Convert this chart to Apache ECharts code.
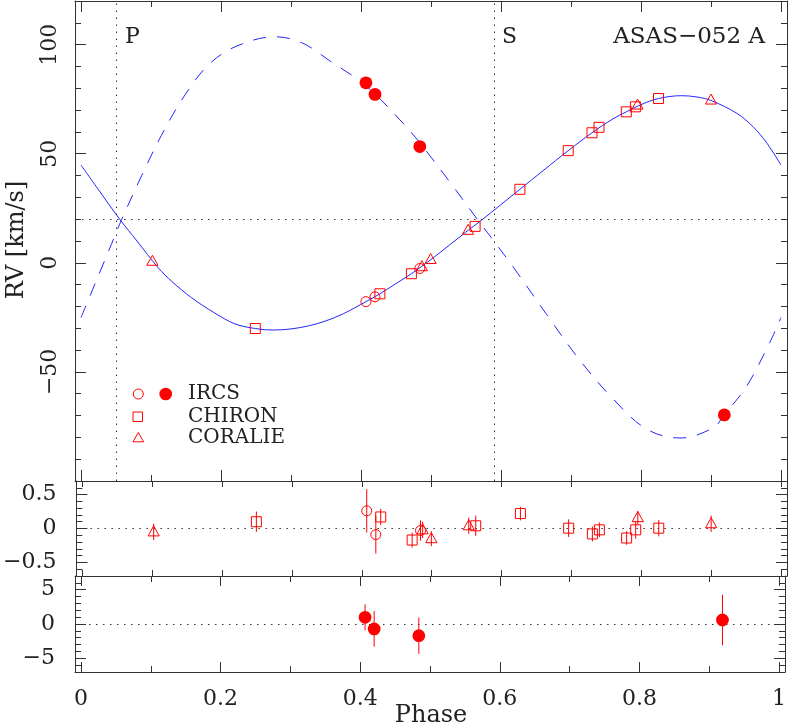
<!DOCTYPE html>
<html><head><meta charset="utf-8">
<script src="https://cdn.jsdelivr.net/npm/echarts@6/dist/echarts.min.js"></script>
<style>html,body{margin:0;padding:0;background:#fff}#c{width:789px;height:725px}</style>
</head><body><div id="c"></div>
<script>
// ---------------- data ----------------
const modelPhaseA = [0, 0.025, 0.0557, 0.08, 0.1104, 0.13, 0.158, 0.19, 0.22, 0.249, 0.275, 0.30, 0.325, 0.35, 0.375, 0.407, 0.427, 0.45, 0.472, 0.50, 0.527, 0.553, 0.57, 0.60, 0.627, 0.66, 0.696, 0.73, 0.76, 0.779, 0.80, 0.825, 0.858, 0.88, 0.90, 0.937, 0.96, 0.98, 1.0];
const modelRvA    = [44.8, 33.5, 19.8, 10.0, -2.3, -8.6, -16.0, -22.8, -28.0, -30.1, -30.8, -30.3, -28.9, -26.6, -23.3, -17.8, -14.2, -9.5, -5.0, 1.5, 8.3, 14.9, 19.0, 26.7, 33.7, 42.2, 51.4, 59.6, 66.0, 69.2, 72.5, 75.3, 76.6, 76.0, 74.4, 68.5, 62.4, 54.8, 44.8];
const modelPhaseB = [0, 0.0486, 0.058, 0.0867, 0.115, 0.1486, 0.182, 0.22, 0.277, 0.3153, 0.358, 0.407, 0.4557, 0.484, 0.527, 0.57, 0.5867, 0.6176, 0.665, 0.713, 0.7605, 0.808, 0.8557, 0.9033, 0.919, 0.951, 0.984, 1.0];
const modelRvB    = [-25.1, 12.5, 19.8, 40.0, 58.5, 77.0, 90.7, 99.0, 103.6, 100.9, 92.0, 81.2, 65.5, 55.0, 37.0, 18.3, 11.3, -2.0, -23.6, -44.8, -62.5, -76.2, -80.3, -75.6, -69.7, -56.5, -36.5, -25.1];

const ircsPhaseA = [0.407, 0.420, 0.484];
const ircsRvA    = [-17.8, -15.6, -2.6];
const ircsResA   = [0.26, -0.09, -0.03];
const ircsErrA   = [0.32, 0.28, 0.15];

const ircsPhaseB = [0.407, 0.420, 0.484, 0.919];
const ircsRvB    = [82.5, 77.2, 53.3, -69.7];
const ircsResB   = [0.97, -0.72, -1.7, 0.58];
const ircsErrB   = [1.9, 2.6, 2.65, 3.7];

const chironPhase = [0.249, 0.427, 0.472, 0.563, 0.627, 0.696, 0.730, 0.740, 0.779, 0.792, 0.825];
const chironRv    = [-30.1, -14.2, -5.0, 16.7, 33.7, 51.4, 59.6, 62.1, 69.2, 71.5, 75.3];
const chironRes   = [0.10, 0.17, -0.17, 0.04, 0.22, 0.005, -0.08, -0.02, -0.14, -0.02, 0.005];
const chironErr   = [0.15, 0.12, 0.11, 0.15, 0.10, 0.13, 0.11, 0.11, 0.10, 0.13, 0.12];

const coraliePhase = [0.102, 0.487, 0.4995, 0.553, 0.795, 0.900];
const coralieRv    = [0.7, -1.8, 1.5, 14.9, 72.3, 74.6];
const coralieRes   = [-0.05, -0.02, -0.15, 0.04, 0.16, 0.07];
const coralieErr   = [0.12, 0.12, 0.11, 0.12, 0.10, 0.12];

const gammaRv = 20;
const phaseP = 0.052;
const phaseS = 0.5895;

const xMajorTicks = [0, 0.2, 0.4, 0.6, 0.8, 1];
const xMinorTicks = [0.1, 0.3, 0.5, 0.7, 0.9];
const yTopMajor = [-50, 0, 50, 100];
const yTopMinor = [-90, -80, -70, -60, -40, -30, -20, -10, 10, 20, 30, 40, 60, 70, 80, 90, 110];
const yMidMajor = [-0.5, 0, 0.5];
const yMidMinor = [-0.6, -0.4, -0.3, -0.2, -0.1, 0.1, 0.2, 0.3, 0.4, 0.6];
const yBotMajor = [-5, 0, 5];
const yBotMinor = [-6, -4, -3, -2, -1, 1, 2, 3, 4, 6];

// ---------------- helpers ----------------
const zip = (a, b) => a.map((v, i) => [v, b[i]]);
const zip3 = (a, b, c) => a.map((v, i) => [v, b[i], c[i]]);
const FONT = 'DejaVu Serif';
const frameStyle = { color: '#333', width: 1 };
const tickStyle = { color: '#333', width: 1 };
const fmt = v => String(+v.toFixed(3)).replace('-', '\u2212');
const X_MIN = -0.00857, X_MAX = 1.00857;
const RED = '#ff0000';
const BLUE = '#2424ff';

function xAxesFor(g, showLabels, majLen, minLen) {
  const c = { type: 'value', gridIndex: g, min: X_MIN, max: X_MAX, splitLine: { show: false } };
  const mk = (pos, ticks, len, line, lab) => Object.assign({}, c, {
    position: pos,
    axisLine: { show: line, onZero: false, lineStyle: frameStyle },
    axisTick: { show: true, inside: true, length: len, customValues: ticks, lineStyle: tickStyle },
    axisLabel: lab ? { show: true, customValues: ticks, margin: 16, formatter: fmt, fontFamily: FONT, fontSize: 22, color: '#222' } : { show: false }
  });
  return [
    mk('bottom', xMajorTicks, majLen, true, showLabels),
    mk('bottom', xMinorTicks, minLen, false, false),
    mk('top', xMajorTicks, majLen, true, false),
    mk('top', xMinorTicks, minLen, false, false)
  ];
}
function yAxesFor(g, min, max, major, minor, rotate, margin) {
  const c = { type: 'value', gridIndex: g, min: min, max: max, splitLine: { show: false } };
  const mk = (pos, ticks, len, line, lab) => Object.assign({}, c, {
    position: pos,
    axisLine: { show: line, onZero: false, lineStyle: frameStyle },
    axisTick: { show: true, inside: true, length: len, customValues: ticks, lineStyle: tickStyle },
    axisLabel: lab ? { show: true, customValues: ticks, margin: margin, rotate: rotate, formatter: fmt, fontFamily: FONT, fontSize: 22, color: '#222' } : { show: false }
  });
  return [
    mk('left', major, 11, true, true),
    mk('left', minor, 6, false, false),
    mk('right', major, 11, true, false),
    mk('right', minor, 6, false, false)
  ];
}
const dotted = { type: [1.5, 5.5], color: '#333', width: 1 };
function mline(data) {
  return { silent: true, symbol: ['none', 'none'], label: { show: false }, lineStyle: dotted, data: data, animation: false };
}
function errBars(g, data) {
  return {
    type: 'custom', xAxisIndex: g * 4, yAxisIndex: g * 4, data: data, z: 8, silent: true,
    encode: { x: 0, y: 1 },
    renderItem: function (params, api) {
      const x = api.value(0), y = api.value(1), e = api.value(2);
      const p1 = api.coord([x, y - e]), p2 = api.coord([x, y + e]);
      return { type: 'line', shape: { x1: p1[0], y1: p1[1], x2: p2[0], y2: p2[1] }, style: { stroke: RED, lineWidth: 1 } };
    }
  };
}
// markers drawn through the axes' coordinate system
function marks(g, data, kind) {
  return {
    type: 'custom', xAxisIndex: g * 4, yAxisIndex: g * 4, data: data, z: 10, silent: true,
    encode: { x: 0, y: 1 },
    renderItem: function (params, api) {
      const p = api.coord([api.value(0), api.value(1)]);
      const cx = p[0], cy = p[1];
      const open = { fill: 'none', stroke: RED, lineWidth: 1 };
      if (kind === 'filled') return { type: 'circle', shape: { cx: cx, cy: cy, r: 6.4 }, style: { fill: RED } };
      if (kind === 'circle') return { type: 'circle', shape: { cx: cx, cy: cy, r: 5 }, style: open };
      if (kind === 'rect') return { type: 'rect', shape: { x: cx - 5, y: cy - 5, width: 10, height: 10 }, style: open };
      return { type: 'polygon', shape: { points: [[cx, cy - 6], [cx + 5.6, cy + 4], [cx - 5.6, cy + 4]] }, style: open };
    }
  };
}

const option = {
  animation: false,
  grid: [
    { left: 75, width: 712, top: 1, height: 480 },
    { left: 75, width: 712, top: 481, height: 95 },
    { left: 75, width: 712, top: 576, height: 96 }
  ],
  xAxis: [].concat(xAxesFor(0, false, 11, 6), xAxesFor(1, false, 6, 6), xAxesFor(2, true, 10, 6)),
  yAxis: [].concat(
    yAxesFor(0, -100, 120, yTopMajor, yTopMinor, 90, 14),
    yAxesFor(1, -0.7, 0.7, yMidMajor, yMidMinor, 0, 20),
    yAxesFor(2, -7, 7, yBotMajor, yBotMinor, 0, 20)
  ),
  series: [
    { type: 'line', xAxisIndex: 0, yAxisIndex: 0, data: zip(modelPhaseA, modelRvA), smooth: 0.35, symbol: 'none', showSymbol: false, silent: true,
      lineStyle: { color: BLUE, width: 1 }, z: 2, emphasis: { disabled: true },
      markLine: mline([{ yAxis: gammaRv }, { xAxis: phaseP }, { xAxis: phaseS }]) },
    { type: 'line', xAxisIndex: 0, yAxisIndex: 0, data: zip(modelPhaseB, modelRvB), smooth: 0.35, symbol: 'none', showSymbol: false, silent: true,
      lineStyle: { color: BLUE, width: 1, type: [13, 11] }, z: 2, emphasis: { disabled: true } },
    marks(0, zip(ircsPhaseA, ircsRvA), 'circle'),
    marks(0, zip(ircsPhaseB, ircsRvB), 'filled'),
    marks(0, zip(chironPhase, chironRv), 'rect'),
    marks(0, zip(coraliePhase, coralieRv), 'triangle'),

    { type: 'line', xAxisIndex: 4, yAxisIndex: 4, data: [], symbol: 'none', markLine: mline([{ yAxis: 0 }]) },
    errBars(1, zip3(ircsPhaseA, ircsResA, ircsErrA)),
    errBars(1, zip3(chironPhase, chironRes, chironErr)),
    errBars(1, zip3(coraliePhase, coralieRes, coralieErr)),
    marks(1, zip(ircsPhaseA, ircsResA), 'circle'),
    marks(1, zip(chironPhase, chironRes), 'rect'),
    marks(1, zip(coraliePhase, coralieRes), 'triangle'),

    { type: 'line', xAxisIndex: 8, yAxisIndex: 8, data: [], symbol: 'none', markLine: mline([{ yAxis: 0 }]) },
    errBars(2, zip3(ircsPhaseB, ircsResB, ircsErrB)),
    marks(2, zip(ircsPhaseB, ircsResB), 'filled')
  ],
  graphic: [
    { type: 'text', x: 125, y: 37, style: { text: 'P', fontFamily: FONT, fontSize: 22, fill: '#222', textVerticalAlign: 'middle', verticalAlign: 'middle' } },
    { type: 'text', x: 502, y: 37, style: { text: 'S', fontFamily: FONT, fontSize: 22, fill: '#222', textVerticalAlign: 'middle', verticalAlign: 'middle' } },
    { type: 'text', x: 765, y: 37, style: { text: 'ASAS\u2212052 A', fontFamily: FONT, fontSize: 23, fill: '#222', textAlign: 'right', align: 'right', textVerticalAlign: 'middle', verticalAlign: 'middle' } },
    { type: 'text', x: 17, y: 240, rotation: Math.PI / 2, style: { text: 'RV [km/s]', fontFamily: FONT, fontSize: 24, fill: '#222', textAlign: 'center', align: 'center', textVerticalAlign: 'middle', verticalAlign: 'middle' } },
    { type: 'text', x: 431, y: 716, style: { text: 'Phase', fontFamily: FONT, fontSize: 24, fill: '#222', textAlign: 'center', align: 'center', textVerticalAlign: 'middle', verticalAlign: 'middle' } },
    // legend
    { type: 'circle', shape: { cx: 138.3, cy: 394, r: 5 }, style: { fill: 'none', stroke: RED, lineWidth: 1 } },
    { type: 'circle', shape: { cx: 165.7, cy: 394, r: 6.3 }, style: { fill: RED } },
    { type: 'rect', shape: { x: 133, y: 412, width: 9.5, height: 9.5 }, style: { fill: 'none', stroke: RED, lineWidth: 1 } },
    { type: 'polygon', shape: { points: [[138.3, 432.5], [143.6, 441.8], [133, 441.8]] }, style: { fill: 'none', stroke: RED, lineWidth: 1 } },
    { type: 'text', x: 188, y: 394, style: { text: 'IRCS', fontFamily: FONT, fontSize: 20, fill: '#222', textVerticalAlign: 'middle', verticalAlign: 'middle' } },
    { type: 'text', x: 188, y: 416.7, style: { text: 'CHIRON', fontFamily: FONT, fontSize: 20, fill: '#222', textVerticalAlign: 'middle', verticalAlign: 'middle' } },
    { type: 'text', x: 188, y: 437.3, style: { text: 'CORALIE', fontFamily: FONT, fontSize: 20, fill: '#222', textVerticalAlign: 'middle', verticalAlign: 'middle' } }
  ]
};
const chart = echarts.init(document.getElementById('c'), null, { renderer: 'canvas' });
chart.setOption(option);
</script></body></html>
